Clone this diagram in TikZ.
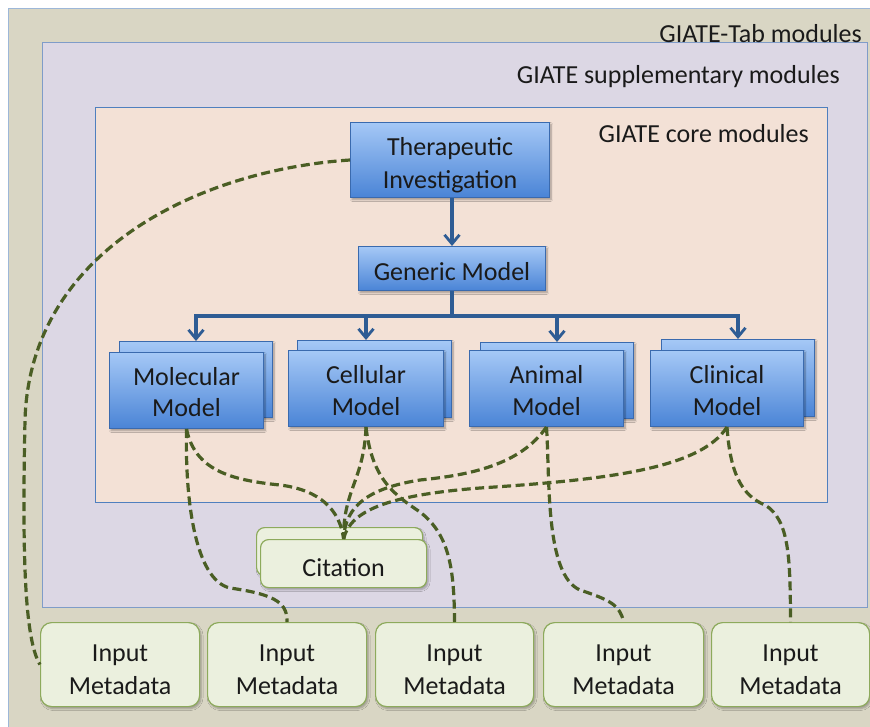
\documentclass[tikz,border=0pt]{standalone}
\usepackage{fontspec}
\setmainfont{Carlito}
\usetikzlibrary{arrows.meta,shadows.blur}
\definecolor{outerfill}{HTML}{D9D6C4}
\definecolor{outerdraw}{HTML}{9DB7D8}
\definecolor{supfill}{HTML}{DCD7E4}
\definecolor{supdraw}{HTML}{7F9CC8}
\definecolor{corefill}{HTML}{F3E1D6}
\definecolor{coredraw}{HTML}{4F7FBE}
\definecolor{bluetop}{HTML}{A5C8F6}
\definecolor{bluebot}{HTML}{4A84D6}
\definecolor{blueedge}{HTML}{3A6AAE}
\definecolor{greenfill}{HTML}{EBF0DE}
\definecolor{greenedge}{HTML}{8DAA5C}
\definecolor{dashcol}{HTML}{4A5E24}
\definecolor{treecol}{HTML}{2E5C94}
\definecolor{txt}{HTML}{1A1A1A}
\tikzset{
  region/.style={draw, line width=1.2pt, anchor=north west, inner sep=0pt},
  lbl/.style={anchor=east, inner sep=0pt, font=\fontsize{26}{31}\selectfont, text=txt},
  bluebox/.style={draw=blueedge, line width=1pt, top color=bluetop, bottom color=bluebot,
    anchor=north west, inner sep=0pt,
    blur shadow={shadow xshift=1.5pt, shadow yshift=-2pt, shadow blur steps=6, shadow opacity=35}},
  greenbox/.style={draw=greenedge, line width=1.2pt, fill=greenfill, rounded corners=11pt,
    anchor=north west, inner sep=0pt,
    blur shadow={shadow xshift=1.5pt, shadow yshift=-2pt, shadow blur steps=6, shadow opacity=30}},
  boxtext/.style={inner sep=0pt, align=center, text=txt, font=\fontsize{26}{#1}\selectfont},
  boxtext/.default=31,
  tree/.style={draw=treecol, line width=3.2pt},
  treearr/.style={tree, -{Straight Barb[length=9pt,width=15pt,line width=2.8pt]}},
  link/.style={draw=dashcol, line width=3.2pt, dash pattern=on 9pt off 4.5pt}
}
\begin{document}
\begin{tikzpicture}[x=1pt,y=-1pt]
\useasboundingbox (0,0) rectangle (870,726);
\fill[white] (0,0) rectangle (870,726);
% regions
\node[region, fill=outerfill, draw=outerdraw, minimum width=900pt, minimum height=740pt] (tab) at (8,8) {};
\node[region, fill=supfill, draw=supdraw, minimum width=825pt, minimum height=565pt] (sup) at (42,42) {};
\node[region, fill=corefill, draw=coredraw, minimum width=732pt, minimum height=395pt] (core) at (95,107) {};
\node[lbl] (tabl) at (862,34) {GIATE-Tab modules};
\node[lbl] (supl) at (840,77) {GIATE supplementary modules};
\node[lbl] (corel) at (809,134) {GIATE core modules};
% core boxes
\node[bluebox, minimum width=199pt, minimum height=75pt] (ti) at (350,122) {};
\node[boxtext=33, yshift=-5pt] (tit) at (ti.center) {Therapeutic\\Investigation};
\node[bluebox, minimum width=187pt, minimum height=44pt] (gm) at (358,246) {};
\node[boxtext, yshift=-3.5pt] (gmt) at (gm.center) {Generic Model};
\node[bluebox, minimum width=153pt, minimum height=76pt] (molB) at (119,341) {};
\node[bluebox, minimum width=154pt, minimum height=76pt] (mol) at (109,352) {};
\node[boxtext, yshift=-2pt] (molt) at (mol.center) {Molecular\\Model};
\node[bluebox, minimum width=154pt, minimum height=77pt] (celB) at (297,340) {};
\node[bluebox, minimum width=155pt, minimum height=76pt] (cel) at (288,350) {};
\node[boxtext=32, yshift=-2pt] (celt) at (cel.center) {Cellular\\Model};
\node[bluebox, minimum width=153pt, minimum height=76pt] (aniB) at (480,342) {};
\node[bluebox, minimum width=154pt, minimum height=76pt] (ani) at (469,350) {};
\node[boxtext=32, yshift=-2pt] (anit) at (ani.center) {Animal\\Model};
\node[bluebox, minimum width=153pt, minimum height=77pt] (cliB) at (661,339) {};
\node[bluebox, minimum width=153pt, minimum height=76pt] (cli) at (650,350) {};
\node[boxtext=32, yshift=-2pt] (clit) at (cli.center) {Clinical\\Model};
% citation
\node[greenbox, rounded corners=8pt, minimum width=166pt, minimum height=48pt] (citB) at (256,527) {};
\node[greenbox, rounded corners=8pt, minimum width=166pt, minimum height=48pt] (cit) at (260,539) {};
\node[boxtext, yshift=-4pt] (citt) at (cit.center) {Citation};
% input metadata
\node[greenbox, minimum width=159pt, minimum height=84pt] (in1) at (40,622) {};
\node[greenbox, minimum width=159pt, minimum height=84pt] (in2) at (207,622) {};
\node[greenbox, minimum width=158pt, minimum height=84pt] (in3) at (375,622) {};
\node[greenbox, minimum width=160pt, minimum height=84pt] (in4) at (543,622) {};
\node[greenbox, minimum width=158pt, minimum height=84pt] (in5) at (711,622) {};
\foreach \i in {1,...,5}{
  \node[boxtext=33, yshift=-5.5pt] (in\i t) at (in\i.center) {Input\\Metadata};
}
% tree
\draw[treearr] (ti.south -| gm.north) -- (gm.north);
\path (gm.south) ++(0,25) coordinate (j);
\draw[tree] (gm.south) -- (j);
\draw[treearr] (j) -| (molB.north);
\draw[treearr] (j) -| (cel.north |- celB.north);
\draw[treearr] (j) -| (aniB.north);
\draw[treearr] (j) -| (cliB.north);
% dashed links
\draw[link] (ti.west) .. controls (200,170) and (30,250) .. (25,420) .. controls (22,560) and (25,640) .. (in1.west);
\draw[link] (mol.south) .. controls (185,500) and (195,580) .. (230,588) .. controls (280,595) and (287,605) .. (in2.north);
\draw[link] (mol.south) .. controls (195,470) and (230,480) .. (280,485) .. controls (320,490) and (340,510) .. (cit.north);
\draw[link] (cel.south) .. controls (364,480) and (343,490) .. (cit.north);
\draw[link] (cel.south) .. controls (372,480) and (395,495) .. (420,512) .. controls (450,535) and (454,570) .. (in3.north);
\draw[link] (ani.south) .. controls (520,465) and (470,475) .. (420,480) .. controls (370,488) and (345,505) .. (cit.north);
\draw[link] (ani.south) .. controls (550,480) and (545,575) .. (580,590) .. controls (610,600) and (620,605) .. (in4.north);
\draw[link] (cli.south) .. controls (700,470) and (600,480) .. (480,488) .. controls (390,495) and (350,510) .. (cit.north);
\draw[link] (cli.south) .. controls (730,470) and (740,495) .. (765,505) .. controls (790,520) and (790,560) .. (in5.north);
\end{tikzpicture}
\end{document}
